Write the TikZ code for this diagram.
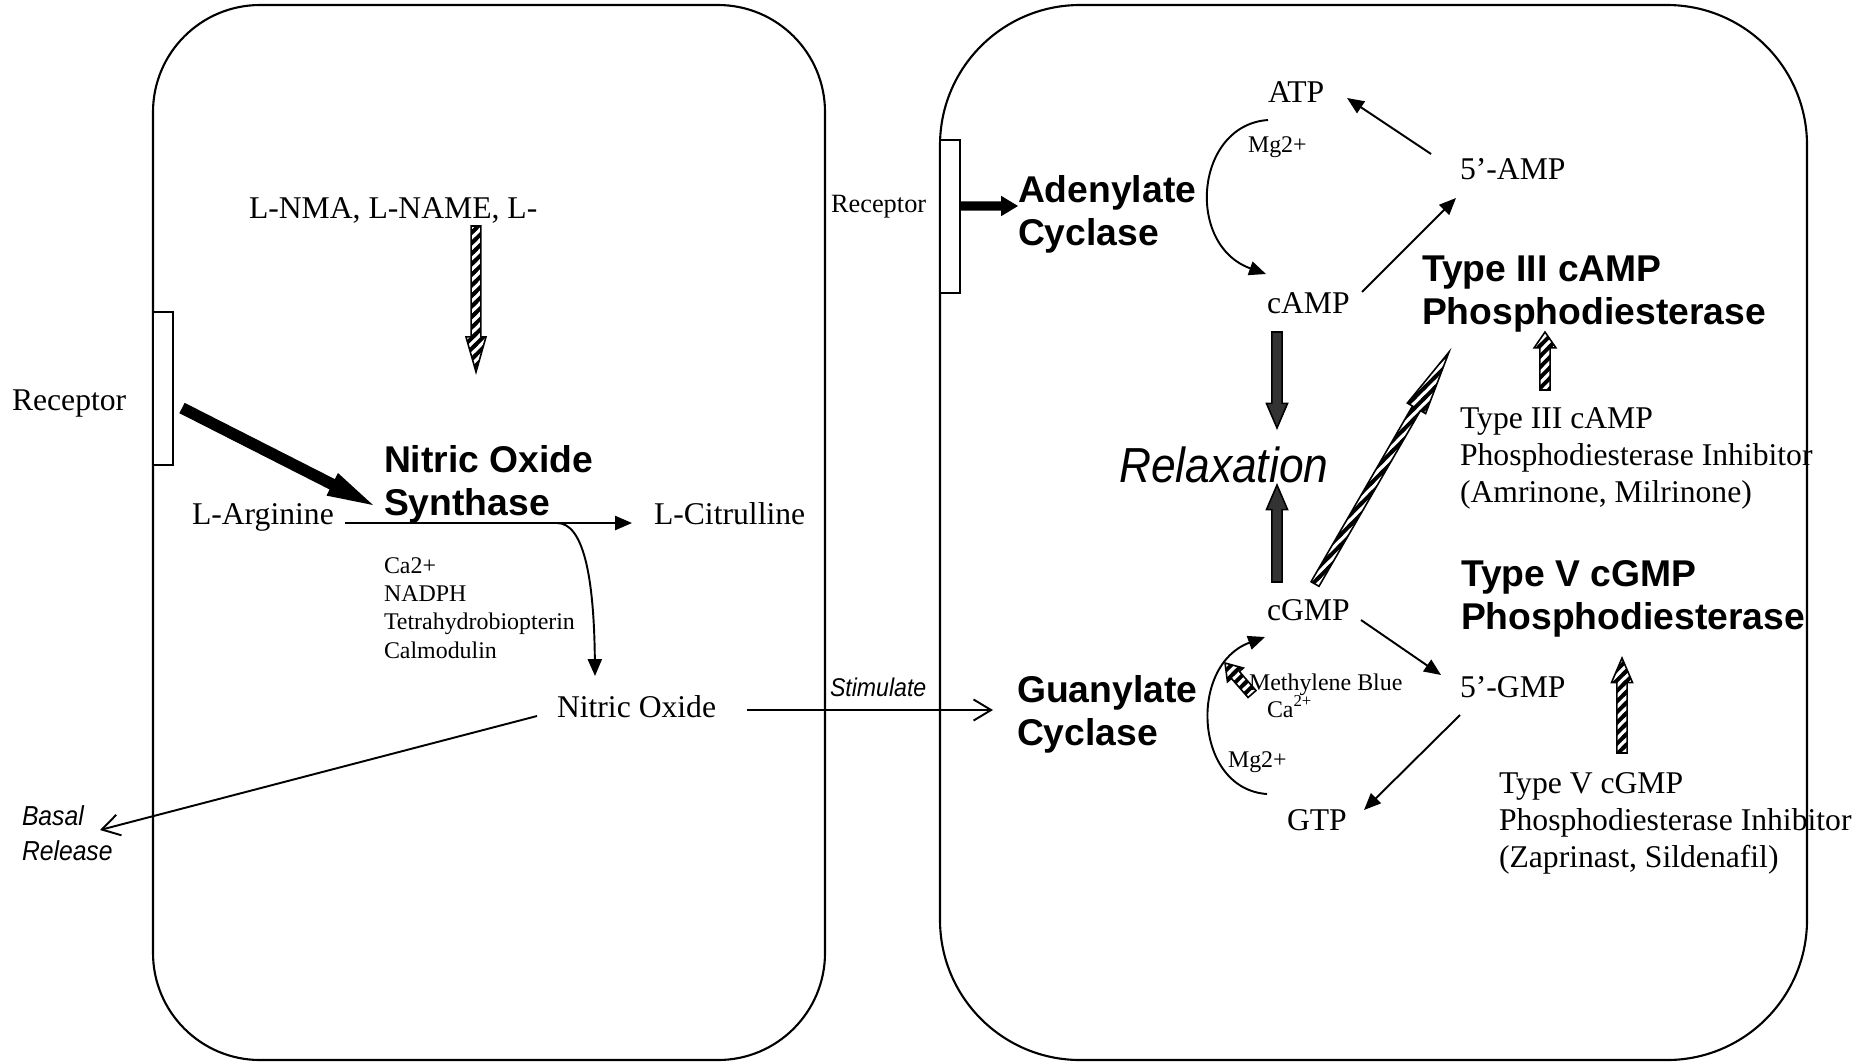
\documentclass[tikz,border=0pt]{standalone}
\usepackage{fontspec}
\setmainfont{Liberation Serif}
\newfontfamily\bsf{Liberation Sans}
\newfontfamily\nsf[FakeStretch=0.9]{Liberation Sans}
\usetikzlibrary{calc,arrows.meta,patterns}

\pgfdeclarepatternformonly{hatchstripes}{\pgfqpoint{-1pt}{-1pt}}{\pgfqpoint{4pt}{4pt}}{\pgfqpoint{3pt}{3pt}}{%
  \pgfsetlinewidth{1.1pt}%
  \pgfpathmoveto{\pgfqpoint{-0.5pt}{-0.5pt}}%
  \pgfpathlineto{\pgfqpoint{3.5pt}{3.5pt}}%
  \pgfusepath{stroke}}

\definecolor{darkfill}{RGB}{51,51,51}

% #1 style, #2 from, #3 to, #4 shaft half width, #5 head half width, #6 head length
\newcommand\blockarrow[6]{%
  \coordinate (ba-h) at ($(#3)!#6!(#2)$);
  \path[#1] ($(#2)!#4!90:(#3)$) -- ($(ba-h)!#4!90:(#3)$) -- ($(ba-h)!#5!90:(#3)$) -- (#3)
    -- ($(ba-h)!#5!-90:(#3)$) -- ($(ba-h)!#4!-90:(#3)$) -- ($(#2)!#4!-90:(#3)$) -- cycle;}

\begin{document}
\begin{tikzpicture}[x=0.01cm,y=-0.01cm,
  cell/.style={draw, line width=0.6pt},
  recep/.style={draw, fill=white, line width=0.6pt},
  txt/.style={inner sep=0pt, outer sep=0pt, anchor=base west, align=left, font=\fontsize{9}{10.5}\selectfont},
  smalltxt/.style={txt, font=\fontsize{6.8}{8.05}\selectfont},
  boldtxt/.style={txt, font=\bsf\bfseries\fontsize{10.6}{12.2}\selectfont},
  hatch/.style={draw, line width=0.45pt, pattern=hatchstripes},
  dark/.style={draw, line width=0.45pt, fill=darkfill},
  thin/.style={line width=0.55pt, -{Triangle[length=4.8pt,width=4pt]}},
  openarr/.style={line width=0.55pt, -{Straight Barb[length=5pt,width=6pt]}}]
\useasboundingbox (0,0) rectangle (1870,1063);

% cells
\draw[cell, rounded corners=1.07cm] (153,5) rectangle (825,1060);
\draw[cell, rounded corners=1.4cm] (940,5) rectangle (1807,1060);
\draw[recep] (153,312) rectangle (173,465);
\draw[recep] (940,140) rectangle (960,293);

% ---------- left cell texts (multi-line nodes: base = last line) ----------
\node[txt] (recL) at (12,410) {Receptor};
\node[txt] (lnma) at (249,218) {L-NMA, L-NAME, L-};
\node[boldtxt] (nos) at (384,515) {Nitric Oxide\\Synthase};
\node[txt] (larg) at (192,524) {L-Arginine};
\node[txt] (lcit) at (654,524) {L-Citrulline};
\node[smalltxt] (cof) at (384,658) {Ca2+\\NADPH\\Tetrahydrobiopterin\\Calmodulin};
\node[txt] (no) at (557,717) {Nitric Oxide};
\node[txt, font=\nsf\itshape\fontsize{7.3}{8.5}\selectfont] (stim) at (830,696) {Stimulate};
\node[txt, font=\nsf\itshape\fontsize{7.8}{9.7}\selectfont] (basal) at (22,860) {Basal\\Release};

% ---------- right cell texts ----------
\node[txt, font=\fontsize{7.5}{9}\selectfont] (recR) at (831,212) {Receptor};
\node[boldtxt] (adcy) at (1018,245) {Adenylate\\Cyclase};
\node[txt] (atp) at (1268,102) {ATP};
\node[smalltxt] (mg1) at (1248,152) {Mg2+};
\node[txt] (amp5) at (1460,179) {5’-AMP};
\node[txt] (camp) at (1267,313) {cAMP};
\node[boldtxt] (pde3) at (1422,324) {Type III cAMP\\Phosphodiesterase};
\node[txt, font=\nsf\itshape\fontsize{14}{16}\selectfont] (relax) at (1119,482) {Relaxation};
\node[txt] (inh3) at (1460,502) {Type III cAMP\\Phosphodiesterase Inhibitor\\(Amrinone, Milrinone)};
\node[txt] (cgmp) at (1267,620) {cGMP};
\node[boldtxt] (pde5) at (1461,629) {Type V cGMP\\Phosphodiesterase};
\node[boldtxt] (gucy) at (1017,745) {Guanylate\\Cyclase};
\node[smalltxt] (mb) at (1249,690) {Methylene Blue};
\node[smalltxt] (ca) at (1267,717) {Ca\textsuperscript{2+}};
\node[smalltxt] (mg2) at (1228,767) {Mg2+};
\node[txt] (gmp5) at (1460,697) {5’-GMP};
\node[txt] (gtp) at (1287,830) {GTP};
\node[txt] (inh5) at (1499,867) {Type V cGMP\\Phosphodiesterase Inhibitor\\(Zaprinast, Sildenafil)};

% ---------- coordinates ----------
\coordinate (k1) at (182,408);  \coordinate (k2) at (373,505);
\coordinate (h1) at (476,226);  \coordinate (h2) at (476,372);
\coordinate (r1) at (960,206);  \coordinate (r2) at (1018,206);
\coordinate (d1) at (1277,332); \coordinate (d2) at (1277,428);
\coordinate (d3) at (1277,582); \coordinate (d4) at (1277,485);
\coordinate (l1) at (1315,584); \coordinate (l2) at (1449,352);
\coordinate (t1) at (1545,390); \coordinate (t2) at (1545,332);
\coordinate (v1) at (1622,753); \coordinate (v2) at (1622,658);
\coordinate (m1) at (1252,694); \coordinate (m2) at (1225,663);

\coordinate (ar1) at (345,523);  \coordinate (ar2) at (632,523);
\coordinate (cv1) at (557,523);  \coordinate (cv2) at (595,676);
\coordinate (no1) at (747,710);  \coordinate (no2) at (993,710);
\coordinate (bs1) at (537,716);  \coordinate (bs2) at (100,830);
\coordinate (p1) at (1431,154);  \coordinate (p2) at (1347,98);
\coordinate (q1) at (1362,292);  \coordinate (q2) at (1456,198);
\coordinate (g1) at (1361,620);  \coordinate (g2) at (1441,675);
\coordinate (g3) at (1460,715);  \coordinate (g4) at (1364,810);
\coordinate (c1) at (1268,120);  \coordinate (c2) at (1266,274);
\coordinate (c3) at (1267,794);  \coordinate (c4) at (1265,637);

% ---------- block arrows ----------
\blockarrow{fill=black}{k1}{k2}{1.65pt}{3.6pt}{13pt}
\blockarrow{hatch}{h1}{h2}{1.4pt}{2.85pt}{10pt}
\blockarrow{fill=black}{r1}{r2}{1.3pt}{2.9pt}{4.8pt}
\blockarrow{dark}{d1}{d2}{1.45pt}{3pt}{7pt}
\blockarrow{dark}{d3}{d4}{1.45pt}{3pt}{7pt}
\blockarrow{hatch}{l1}{l2}{1.3pt}{3pt}{18.5pt}
\blockarrow{hatch}{t1}{t2}{1.45pt}{3.1pt}{4.5pt}
\blockarrow{hatch}{v1}{v2}{1.45pt}{3pt}{7pt}
\blockarrow{hatch}{m1}{m2}{1.5pt}{3pt}{4.5pt}

% ---------- thin arrows ----------
\draw[thin] (ar1) -- (ar2);
\draw[thin] (cv1) .. controls (583,523) and (594,575) .. (cv2);
\draw[openarr] (no1) -- (no2);
\draw[openarr] (bs1) -- (bs2);
\draw[thin] (p1) -- (p2);
\draw[thin] (q1) -- (q2);
\draw[thin] (g1) -- (g2);
\draw[thin] (g3) -- (g4);
\draw[thin] (c1) .. controls (1195,125) and (1185,245) .. (c2);
\draw[thin] (c3) .. controls (1194,789) and (1188,665) .. (c4);
\end{tikzpicture}
\end{document}
